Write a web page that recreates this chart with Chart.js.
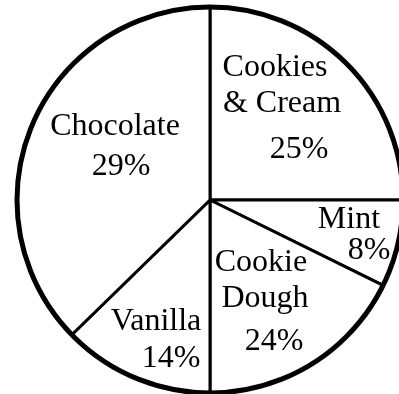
<!DOCTYPE html>
<html>
<head>
<meta charset="utf-8">
<script src="https://cdn.jsdelivr.net/npm/chart.js@4"></script>
<style>
  html, body { margin: 0; padding: 0; background: #fff; }
  #wrap { width: 399px; height: 394px; }
</style>
</head>
<body>
<div id="wrap"><canvas id="pie"></canvas></div>
<script>
// flavours, clockwise from 12 o'clock
const flavours = [["Cookies", "& Cream"], ["Mint"], ["Cookie", "Dough"], ["Vanilla"], ["Chocolate"]];
// percentages printed on the chart
const printedPercent = [25, 8, 24, 14, 29];
// slice sizes as drawn (the picture is not to scale), in % of the circle
const drawnShare = [25, 7.3, 17.7, 12.7, 37.3];

// where each text line sits, in pie radii from the centre
const lineSpots = [
  [[0.337, -0.642], [0.373, -0.456], [0.461, -0.218]],
  [[0.720, 0.145], [0.824, 0.306]],
  [[0.264, 0.368], [0.285, 0.554], [0.332, 0.777]],
  [[-0.280, 0.674], [-0.202, 0.865]],
  [[-0.492, -0.337], [-0.461, -0.130]]
];

const pieText = {
  id: "pieText",
  afterDatasetsDraw(chart) {
    const arcs = chart.getDatasetMeta(0).data;
    const {x, y, outerRadius} = arcs[0];
    const ctx = chart.ctx;
    ctx.save();
    // heavier outer rim
    ctx.beginPath();
    ctx.arc(x, y, outerRadius, 0, Math.PI * 2);
    ctx.lineWidth = 5;
    ctx.strokeStyle = "#000";
    ctx.stroke();
    ctx.fillStyle = "#000";
    ctx.font = "32px 'Liberation Serif', 'DejaVu Serif', serif";
    ctx.textAlign = "center";
    ctx.textBaseline = "alphabetic";
    chart.data.labels.forEach((lab, i) => {
      const lines = [...lab, printedPercent[i] + "%"];
      lines.forEach((t, j) => {
        const [fx, fy] = lineSpots[i][j];
        ctx.fillText(t, x + fx * outerRadius, y + fy * outerRadius);
      });
    });
    ctx.restore();
  }
};

new Chart(document.getElementById("pie"), {
  type: "pie",
  data: {
    labels: flavours,
    datasets: [{
      data: drawnShare,
      backgroundColor: "#fff",
      borderColor: "#000",
      borderWidth: 3,
      clip: false
    }]
  },
  options: {
    responsive: true,
    maintainAspectRatio: false,
    animation: false,
    radius: 193,
    layout: { padding: { left: 21, right: 0, top: 6, bottom: 0 } },
    plugins: {
      legend: { display: false },
      tooltip: { enabled: false }
    }
  },
  plugins: [pieText]
});
</script>
</body>
</html>
